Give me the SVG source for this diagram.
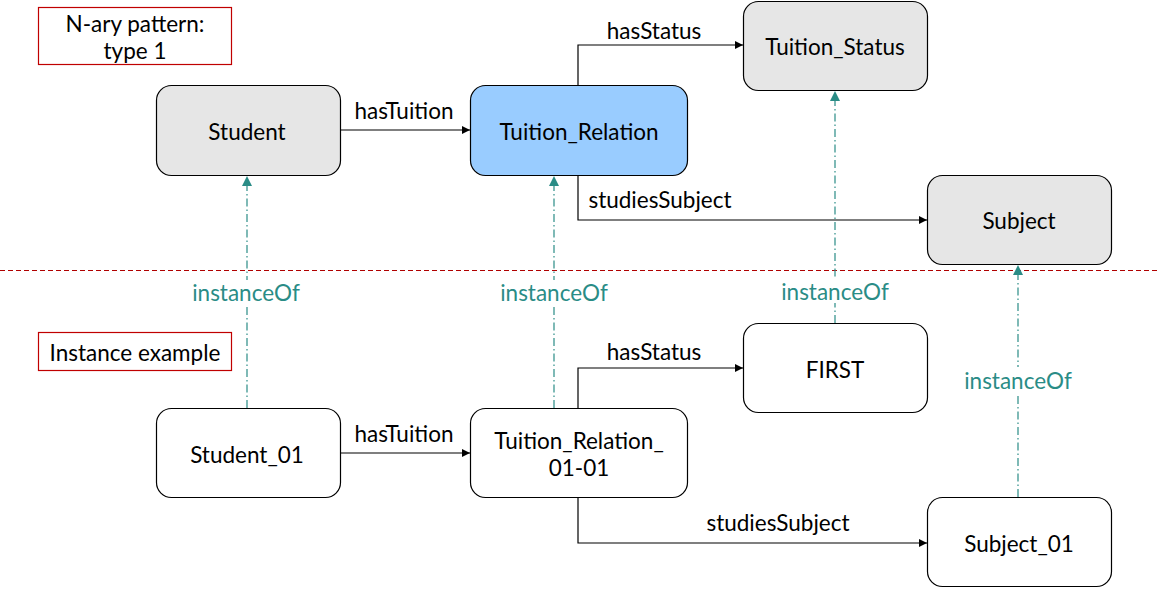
<svg xmlns="http://www.w3.org/2000/svg" width="1159" height="590" viewBox="0 0 1159 590">
<style>
text{font-family:Lato,"Liberation Sans",sans-serif;font-size:22.5px;fill:#000;text-anchor:middle;dominant-baseline:central}
.cls{fill:#e6e6e6;stroke:#000;stroke-width:1.2}
.inst{fill:#fff;stroke:#000;stroke-width:1.2}
.rel{fill:#99ccff;stroke:#000;stroke-width:1.2}
.note{fill:#fff;stroke:#c00000;stroke-width:1.2}
.edge{fill:none;stroke:#000;stroke-width:1.2;marker-end:url(#ah)}
.io{fill:none;stroke:#2a8c86;stroke-width:1.2;stroke-dasharray:8 3 1.5 3;marker-end:url(#ta)}
.iol{fill:#2a8c86}
</style>
<defs>
<marker id="ah" viewBox="0 0 10 10" refX="10" refY="5" markerWidth="8" markerHeight="8" markerUnits="userSpaceOnUse" orient="auto"><path d="M0,0L10,5L0,10z" fill="#000"/></marker>
<marker id="ta" viewBox="0 0 10 10" refX="10" refY="5" markerWidth="10" markerHeight="10" markerUnits="userSpaceOnUse" orient="auto"><path d="M0,0L10,5L0,10z" fill="#2a8c86"/></marker>
</defs>
<line x1="0" y1="270.5" x2="1159" y2="270.5" stroke="#b00000" stroke-width="1.2" stroke-dasharray="5 3"/>
<g id="connectors">
<path class="edge" d="M340,130H470"/>
<text x="404" y="110">hasTuition</text>
<path class="edge" d="M578,85V45H743"/>
<text x="654" y="30">hasStatus</text>
<path class="edge" d="M578,175V220H927"/>
<text x="660" y="199">studiesSubject</text>
<path class="edge" d="M340,453H470"/>
<text x="404" y="433">hasTuition</text>
<path class="edge" d="M578,408V368H743"/>
<text x="654" y="351">hasStatus</text>
<path class="edge" d="M578,497V543H927"/>
<text x="778" y="522">studiesSubject</text>
<path class="io" d="M247,408V176"/>
<path class="io" d="M554,408V176"/>
<path class="io" d="M835,323V91"/>
<path class="io" d="M1018,497V265"/>
<rect x="188" y="280" width="118" height="24" fill="#fff"/>
<text class="iol" x="246" y="292">instanceOf</text>
<rect x="495" y="280" width="118" height="24" fill="#fff"/>
<text class="iol" x="554" y="292">instanceOf</text>
<rect x="776" y="279" width="118" height="24" fill="#fff"/>
<text class="iol" x="835" y="291">instanceOf</text>
<rect x="959" y="367" width="118" height="26" fill="#fff"/>
<text class="iol" x="1018" y="380">instanceOf</text>
</g>
<g id="note-nary"><rect class="note" x="38.5" y="7.5" width="193" height="57"/><text x="135" y="23">N-ary pattern:</text><text x="135" y="50">type 1</text></g>
<g id="note-instance"><rect class="note" x="38.5" y="332.5" width="193" height="38"/><text x="135" y="352">Instance example</text></g>
<g id="Student"><rect class="cls" x="156.5" y="85.5" width="184" height="90" rx="15"/><text x="247" y="131">Student</text></g>
<g id="Tuition_Relation"><rect class="rel" x="470.5" y="85.5" width="217" height="90" rx="15"/><text x="579" y="131">Tuition_Relation</text></g>
<g id="Tuition_Status"><rect class="cls" x="743.5" y="1.5" width="184" height="89" rx="15"/><text x="835" y="46">Tuition_Status</text></g>
<g id="Subject"><rect class="cls" x="927.5" y="175.5" width="184" height="89" rx="15"/><text x="1019" y="220">Subject</text></g>
<g id="Student_01"><rect class="inst" x="156.5" y="408.5" width="184" height="89" rx="15"/><text x="247" y="454">Student_01</text></g>
<g id="Tuition_Relation_01-01"><rect class="inst" x="470.5" y="408.5" width="217" height="89" rx="15"/><text x="579" y="440">Tuition_Relation_</text><text x="579" y="467">01-01</text></g>
<g id="FIRST"><rect class="inst" x="743.5" y="323.5" width="184" height="89" rx="15"/><text x="835" y="369">FIRST</text></g>
<g id="Subject_01"><rect class="inst" x="927.5" y="497.5" width="184" height="89" rx="15"/><text x="1019" y="543">Subject_01</text></g>
</svg>
